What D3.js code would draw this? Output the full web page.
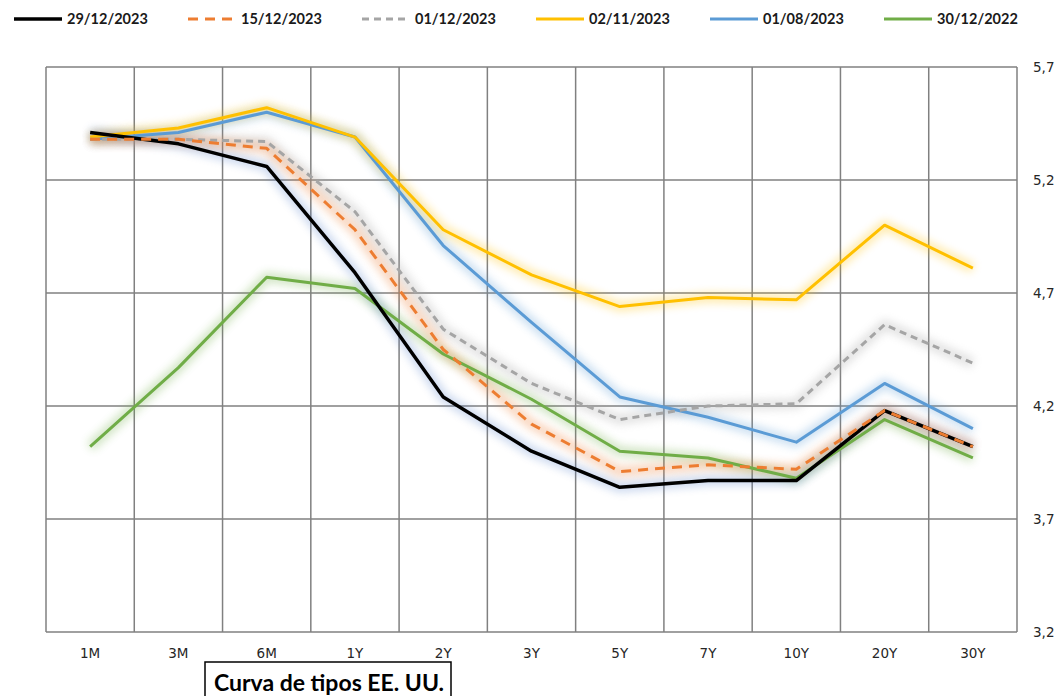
<!DOCTYPE html>
<html>
<head>
<meta charset="utf-8">
<script src="https://cdn.jsdelivr.net/npm/d3@7"></script>
<style>
  body { margin: 0; background: #fff; }
  svg { display: block; }
</style>
</head>
<body>
<div id="chart"></div>
<script>
// tenors on the x axis
const tenors = ["1M", "3M", "6M", "1Y", "2Y", "3Y", "5Y", "7Y", "10Y", "20Y", "30Y"];
const yTicks = [3.2, 3.7, 4.2, 4.7, 5.2, 5.7];

// yields per curve date
const d20231229 = [5.41, 5.36, 5.26, 4.79, 4.24, 4.00, 3.84, 3.87, 3.87, 4.18, 4.02];
const d20231215 = [5.38, 5.38, 5.34, 4.98, 4.45, 4.12, 3.91, 3.94, 3.92, 4.18, 4.02];
const d20231201 = [5.38, 5.38, 5.37, 5.06, 4.54, 4.30, 4.14, 4.20, 4.21, 4.56, 4.39];
const d20231102 = [5.39, 5.43, 5.52, 5.39, 4.98, 4.78, 4.64, 4.68, 4.67, 5.00, 4.81];
const d20230801 = [5.38, 5.41, 5.50, 5.39, 4.91, 4.57, 4.24, 4.15, 4.04, 4.30, 4.10];
const d20221230 = [4.02, 4.37, 4.77, 4.72, 4.43, 4.23, 4.00, 3.97, 3.88, 4.14, 3.97];

const seriesNames = ["29/12/2023", "15/12/2023", "01/12/2023", "02/11/2023", "01/08/2023", "30/12/2022"];
const seriesValues = [d20231229, d20231215, d20231201, d20231102, d20230801, d20221230];

const colors = ["#000000", "#ED7D31", "#A5A5A5", "#FFC000", "#5B9BD5", "#70AD47"];
const widths = [3.5, 3, 3, 3, 3, 3];
const dashes = [null, "10,7", "7,5", null, null, null];

const W = 1057, H = 696;
const plot = {left: 46, right: 1017, top: 67, bottom: 632};

const svg = d3.select("#chart").append("svg")
    .attr("width", W)
    .attr("height", H);

const defs = svg.append("defs");
defs.append("filter")
    .attr("id", "glow")
    .attr("x", "-20%").attr("y", "-20%")
    .attr("width", "140%").attr("height", "140%")
    .append("feGaussianBlur")
    .attr("stdDeviation", 4);

const x = d3.scaleBand()
    .domain(tenors)
    .range([plot.left, plot.right]);

const y = d3.scaleLinear()
    .domain([3.2, 5.7])
    .range([plot.bottom, plot.top]);

// grid: horizontal lines
svg.append("g")
    .selectAll("line")
    .data(yTicks)
    .join("line")
    .attr("x1", plot.left)
    .attr("x2", plot.right)
    .attr("y1", d => y(d))
    .attr("y2", d => y(d))
    .attr("stroke", "#808080")
    .attr("stroke-width", 1.5);

// grid: vertical lines at band edges
const edges = tenors.map(t => x(t)).concat([plot.right]);
svg.append("g")
    .selectAll("line")
    .data(edges)
    .join("line")
    .attr("x1", d => d)
    .attr("x2", d => d)
    .attr("y1", plot.top)
    .attr("y2", plot.bottom)
    .attr("stroke", "#808080")
    .attr("stroke-width", 1.5);

// right axis labels
const yAxis = d3.axisRight(y)
    .tickValues(yTicks)
    .tickSize(0)
    .tickPadding(16)
    .tickFormat(d => d3.format(".1f")(d).replace(".", ","));

svg.append("g")
    .attr("transform", "translate(" + plot.right + ",0)")
    .call(yAxis)
    .call(g => g.select(".domain").remove())
    .selectAll("text")
    .style("font-family", "DejaVu Sans, Verdana, sans-serif")
    .style("font-size", "13.5px")
    .attr("fill", "#262626");

// bottom axis labels
const xAxis = d3.axisBottom(x).tickSize(0).tickPadding(16);
svg.append("g")
    .attr("transform", "translate(0," + plot.bottom + ")")
    .call(xAxis)
    .call(g => g.select(".domain").remove())
    .selectAll("text")
    .style("font-family", "DejaVu Sans, Verdana, sans-serif")
    .style("font-size", "13.5px")
    .attr("fill", "#262626");

const line = d3.line()
    .x((d, i) => x(tenors[i]) + x.bandwidth() / 2)
    .y(d => y(d));

// draw oldest first; orange dashes end up over the black line
const order = [5, 4, 3, 2, 0, 1];

// soft glow under each curve
svg.append("g")
    .selectAll("path")
    .data(order)
    .join("path")
    .attr("d", i => line(seriesValues[i]))
    .attr("fill", "none")
    .attr("stroke", i => i === 0 ? "#4472C4" : colors[i])
    .attr("stroke-width", 10)
    .attr("stroke-linejoin", "round")
    .attr("opacity", i => i === 0 ? 0.28 : 0.32)
    .attr("filter", "url(#glow)");

svg.append("g")
    .selectAll("path")
    .data(order)
    .join("path")
    .attr("d", i => line(seriesValues[i]))
    .attr("fill", "none")
    .attr("stroke", i => colors[i])
    .attr("stroke-width", i => widths[i])
    .attr("stroke-linejoin", "round")
    .attr("stroke-dasharray", i => dashes[i]);

// legend
const legend = svg.append("g")
    .selectAll("g")
    .data(seriesNames)
    .join("g")
    .attr("transform", (d, i) => "translate(" + (14 + i * 174) + ",19)");

legend.append("line")
    .attr("x1", 0)
    .attr("x2", 48)
    .attr("stroke", (d, i) => colors[i])
    .attr("stroke-width", (d, i) => widths[i])
    .attr("stroke-dasharray", (d, i) => dashes[i]);

legend.append("text")
    .attr("x", 53)
    .attr("dy", "0.35em")
    .style("font-family", "Lato, 'Open Sans', sans-serif")
    .style("font-weight", "bold")
    .style("font-size", "14.5px")
    .attr("fill", "#1a1a1a")
    .text(d => d);

// title box
svg.append("rect")
    .attr("x", 205)
    .attr("y", 662)
    .attr("width", 246)
    .attr("height", 40)
    .attr("fill", "#fff")
    .attr("stroke", "#000")
    .attr("stroke-width", 1.5);

svg.append("text")
    .attr("x", 329)
    .attr("y", 691)
    .attr("text-anchor", "middle")
    .style("font-family", "Lato, 'Open Sans', sans-serif")
    .style("font-weight", "bold")
    .style("font-size", "23px")
    .attr("fill", "#000")
    .text("Curva de tipos EE. UU.");
</script>
</body>
</html>
